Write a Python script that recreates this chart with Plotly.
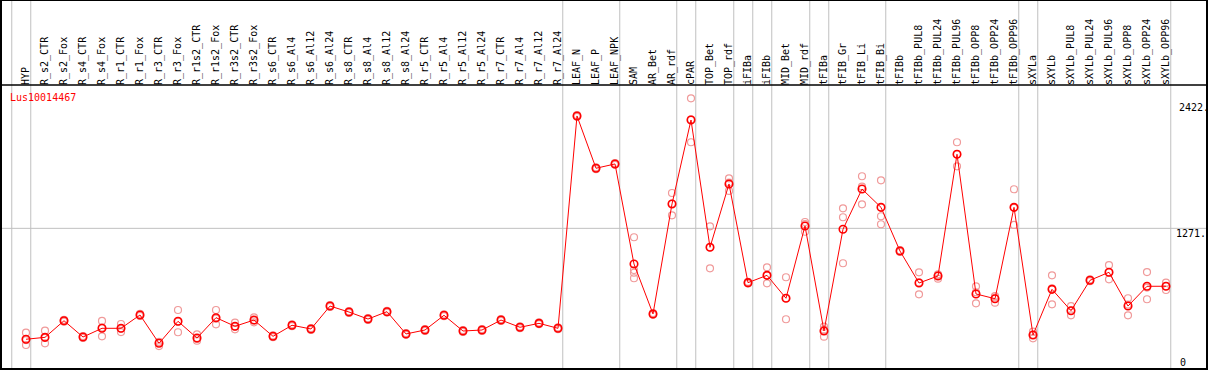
import plotly.graph_objects as go

categories = ["HYP", "R_s2_CTR", "R_s2_Fox", "R_s4_CTR", "R_s4_Fox", "R_r1_CTR", "R_r1_Fox",
              "R_r3_CTR", "R_r3_Fox", "R_r1s2_CTR", "R_r1s2_Fox", "R_r3s2_CTR", "R_r3s2_Fox",
              "R_s6_CTR", "R_s6_Al4", "R_s6_Al12", "R_s6_Al24", "R_s8_CTR", "R_s8_Al4",
              "R_s8_Al12", "R_s8_Al24", "R_r5_CTR", "R_r5_Al4", "R_r5_Al12", "R_r5_Al24",
              "R_r7_CTR", "R_r7_Al4", "R_r7_Al12", "R_r7_Al24", "LEAF_N", "LEAF_P", "LEAF_NPK",
              "SAM", "AR_Bet", "AR_rdf", "cPAR", "TOP_Bet", "TOP_rdf", "iFIBa", "iFIBb",
              "MID_Bet", "MID_rdf", "tFIBa", "tFIB_Gr", "tFIB_Li", "tFIB_Bi", "tFIBb",
              "tFIBb_PUL8", "tFIBb_PUL24", "tFIBb_PUL96", "tFIBb_OPP8", "tFIBb_OPP24",
              "tFIBb_OPP96", "sXYLa", "sXYLb", "sXYLb_PUL8", "sXYLb_PUL24", "sXYLb_PUL96",
              "sXYLb_OPP8", "sXYLb_OPP24", "sXYLb_OPP96"]

means = [289, 306, 453, 309, 386, 386, 504, 253, 448, 300, 480, 404, 459,
         315, 413, 380, 583, 530, 468, 533, 336, 371, 501, 362, 371,
         459, 395, 430, 386, 2266, 1803, 1841,
         955, 513, 1487, 2230, 1103, 1664, 790, 855,
         652, 1292, 362, 1263, 1619, 1457, 1070,
         787, 849, 1927, 690, 648,
         1457, 327, 731, 542, 811, 882,
         583, 758, 758]

replicates = [
    [347, 282, 238], [365, 300, 253], [445, 453, 461], [300, 309, 318], [451, 392, 315],
    [424, 381, 353], [495, 504, 513], [229, 267, 263], [548, 445, 351], [333, 291, 276],
    [548, 471, 421], [436, 399, 377], [483, 455, 439], [307, 315, 323], [405, 413, 421],
    [372, 380, 388], [575, 583, 591], [522, 530, 538], [460, 468, 476], [525, 533, 541],
    [328, 336, 344], [363, 371, 379], [493, 501, 509], [354, 362, 370], [363, 371, 379],
    [451, 459, 467], [387, 395, 403], [422, 430, 438], [378, 386, 394], [2258, 2266, 2274],
    [1795, 1803, 1811], [1833, 1841, 1849], [1192, 902, 878, 829], [505, 513, 521],
    [1584, 1491, 1386], [2422, 2235, 2033], [1289, 1103, 917], [1714, 1676, 1602],
    [782, 790, 798], [926, 855, 784], [838, 652, 466], [1327, 1308, 1241], [400, 374, 312],
    [1448, 1369, 962], [1732, 1641, 1484], [1696, 1378, 1307], [1062, 1070, 1078],
    [882, 792, 687], [864, 858, 825], [2033, 1928, 1820], [758, 705, 607], [672, 659, 613],
    [1617, 1453, 1301], [356, 328, 297], [855, 740, 598], [583, 542, 501], [803, 811, 819],
    [946, 880, 820], [652, 596, 501], [884, 747, 643], [790, 759, 725]]

group_starts = [0, 1, 29, 32, 35, 36, 38, 39, 40, 42, 43, 46, 53, 54, 61]
gene_name = "Lus10014467"
y_tick_values = [2422, 1271, 0]
y_tick_text = ["2422.", "1271.", "0"]

W, H = 1209, 370
PL, PR, PT, PB = 1, 1207, 0, 369
x_of_i0, x_step = 26, 19
x_range = [(PL - x_of_i0) / x_step, (PR - x_of_i0) / x_step]
zero_px, px_per_unit = 371.9, 0.11295
y_range = [(zero_px - PB) / px_per_unit, (zero_px - PT) / px_per_unit]

def py(pix):
    return (PB - pix) / (PB - PT)

def px(pix):
    return (pix - PL) / (PR - PL)

idx = list(range(len(categories)))
rep_x, rep_y = [], []
for i, reps in enumerate(replicates):
    for v in reps:
        rep_x.append(i)
        rep_y.append(v)

mono = "DejaVu Sans Mono"
fig = go.Figure()
fig.add_trace(go.Scatter(x=rep_x, y=rep_y, mode="markers",
                         marker=dict(symbol="circle-open", size=7, color="#f09a9a",
                                     line=dict(width=1.2, color="#f09a9a")),
                         hoverinfo="y", showlegend=False))
fig.add_trace(go.Scatter(x=idx, y=means, mode="lines+markers",
                         line=dict(color="#ff0000", width=1),
                         marker=dict(symbol="circle-open", size=7.5, color="#ff0000",
                                     line=dict(width=1.6, color="#ff0000")),
                         hoverinfo="y", showlegend=False))

shapes = []
for k in group_starts:
    shapes.append(dict(type="line", xref="x", yref="paper", x0=k - 0.75, x1=k - 0.75,
                       y0=0, y1=1, line=dict(color="#c0c0c0", width=1), layer="below"))
shapes.append(dict(type="line", xref="paper", yref="y", x0=0, x1=1,
                   y0=y_tick_values[1], y1=y_tick_values[1],
                   line=dict(color="#c0c0c0", width=1), layer="below"))
header_y = py(85)
shapes.append(dict(type="line", xref="paper", yref="paper", x0=0, x1=1,
                   y0=header_y, y1=header_y, line=dict(color="black", width=1.5)))
shapes.append(dict(type="rect", xref="paper", yref="paper", x0=0, x1=1, y0=0, y1=1,
                   line=dict(color="black", width=2)))

annotations = [dict(text=gene_name, xref="paper", yref="paper", x=px(8), y=py(97),
                    xanchor="left", yanchor="middle", showarrow=False,
                    font=dict(family=mono, size=10, color="#ff0000"))]
label_pos = [(1177, 107), (1174, 233), (1178, 362)]
for t, (lx, ly) in zip(y_tick_text, label_pos):
    annotations.append(dict(text=t, xref="paper", yref="paper", x=px(lx), y=py(ly),
                            xanchor="left", yanchor="middle", showarrow=False,
                            font=dict(family=mono, size=10, color="black")))

fig.update_layout(
    width=W, height=H,
    margin=dict(l=PL, r=W - PR, t=PT, b=H - PB, pad=0),
    paper_bgcolor="white", plot_bgcolor="white",
    xaxis=dict(range=x_range, side="top", anchor="free", position=header_y,
               tickmode="array", tickvals=idx, ticktext=categories, tickangle=-90,
               tickfont=dict(family=mono, size=10, color="black"),
               showgrid=False, zeroline=False, showline=False, ticks=""),
    yaxis=dict(range=y_range, showgrid=False, zeroline=False, showticklabels=False,
               showline=False, ticks=""),
    shapes=shapes, annotations=annotations,
)
fig.write_html("out.html", config={"displayModeBar": False},
               post_script="document.body.style.margin='0';document.body.style.padding='0';")
